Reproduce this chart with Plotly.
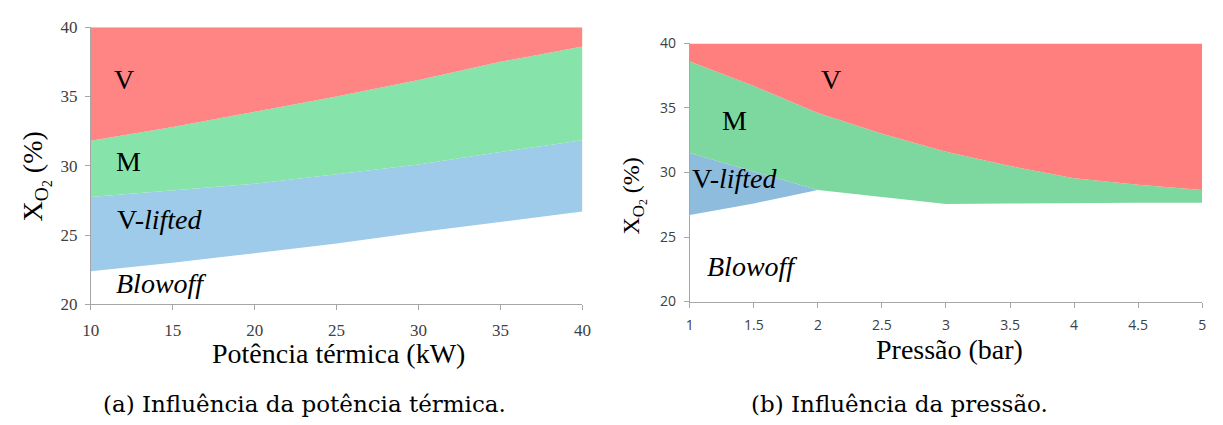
import plotly.graph_objects as go

# ---- (a) thermal power sweep ----
power_kw = [10, 15, 20, 25, 30, 35, 40]
a_lifted_low = [22.4, 23.0, 23.7, 24.4, 25.2, 25.95, 26.7]
a_lifted_high = [27.75, 28.2, 28.7, 29.4, 30.1, 31.0, 31.85]
a_m_high = [31.8, 32.8, 33.9, 35.0, 36.2, 37.5, 38.6]
a_top = [40, 40, 40, 40, 40, 40, 40]

# ---- (b) pressure sweep ----
pressure_bar = [1, 1.5, 2, 2.5, 3, 3.5, 4, 4.5, 5]
b_m_low = [31.5, 30.1, 28.65, 28.1, 27.55, 27.6, 27.65, 27.65, 27.65]
b_m_high = [38.6, 36.7, 34.6, 33.0, 31.6, 30.5, 29.55, 29.05, 28.65]
b_top = [40, 40, 40, 40, 40, 40, 40, 40, 40]
lifted_bar = [1, 1.5, 2]
b_lifted_low = [26.7, 27.6, 28.65]
b_lifted_high = [31.5, 30.1, 28.65]

RED_A, GREEN_A, BLUE_A = "#FF8484", "#86E3AA", "#9DCBE9"
RED_B, GREEN_B, BLUE_B = "#FF7F7F", "#7DD8A0", "#8EBCDD"

SERIF = "Liberation Serif, DejaVu Serif, serif"
CAPTION_FONT = "DejaVu Serif"
SANS = "Open Sans"

W, H = 1223, 425
M = 1  # page margin, px


def px_x(p):
    return (p - M) / (W - 2 * M)


def px_y(p):
    return 1 - (p - M) / (H - 2 * M)


fig = go.Figure()


def band(x, lo, hi, color, xa, ya):
    fig.add_trace(go.Scatter(x=x, y=lo, mode="lines", line=dict(width=0),
                             xaxis=xa, yaxis=ya))
    fig.add_trace(go.Scatter(x=x, y=hi, mode="lines", line=dict(width=0),
                             fill="tonexty", fillcolor=color, xaxis=xa, yaxis=ya))


band(power_kw, a_lifted_low, a_lifted_high, BLUE_A, "x", "y")
band(power_kw, a_lifted_high, a_m_high, GREEN_A, "x", "y")
band(power_kw, a_m_high, a_top, RED_A, "x", "y")

band(lifted_bar, b_lifted_low, b_lifted_high, BLUE_B, "x2", "y2")
band(pressure_bar, b_m_low, b_m_high, GREEN_B, "x2", "y2")
band(pressure_bar, b_m_high, b_top, RED_B, "x2", "y2")


def label(text, x, y, xa, ya, size=28, xanchor="center"):
    fig.add_annotation(text=text, x=x, y=y, xref=xa, yref=ya, showarrow=False,
                       xanchor=xanchor, font=dict(family=SERIF, size=size))


# region labels, chart (a)
label("V", 12.0, 36.2, "x", "y")
label("M", 12.3, 30.3, "x", "y")
label("V-<i>lifted</i>", 11.5, 26.1, "x", "y", xanchor="left")
label("<i>Blowoff</i>", 11.4, 21.5, "x", "y", xanchor="left")

# region labels, chart (b)
label("V", 2.1, 37.2, "x2", "y2")
label("M", 1.35, 34.0, "x2", "y2")
label("V-<i>lifted</i>", 1.0, 29.5, "x2", "y2", xanchor="left")
label("<i>Blowoff</i>", 1.12, 22.7, "x2", "y2", xanchor="left")


# axis titles and captions, centred on pixel positions
def title(text, x, y, size, angle=0, family=SERIF):
    fig.add_annotation(text=text, x=px_x(x), y=px_y(y), xref="paper", yref="paper",
                       xanchor="center", yanchor="middle",
                       showarrow=False, textangle=angle,
                       font=dict(family=family, size=size))


title("Potência térmica (kW)", 334, 360, 28)
title("Pressão (bar)", 955, 356, 28)
title("X<sub>O<sub>2</sub></sub> (%)", 27, 175, 28, -90)
title("X<sub>O<sub>2</sub></sub> (%)", 635, 195, 24, -90)

title("(a) Influência da potência térmica.", 300, 413, 23, family=CAPTION_FONT)
title("(b) Influência da pressão.", 904, 413, 23, family=CAPTION_FONT)

AX = "#A6A6A6"
axis_common = dict(showgrid=False, zeroline=False, showline=True, linecolor=AX,
                   linewidth=1, ticks="outside", ticklen=5, tickcolor=AX)

fig.update_layout(
    width=W, height=H, showlegend=False,
    margin=dict(l=M, r=M, t=M, b=M),
    paper_bgcolor="white", plot_bgcolor="white",
    font=dict(family=SERIF, size=16, color="black"),
    xaxis=dict(domain=[px_x(83), px_x(582)], range=[10, 40], tickvals=power_kw,
               tickfont=dict(family=SERIF, size=17, color="#404040"),
               ticklabelstandoff=5, anchor="y", **axis_common),
    yaxis=dict(domain=[px_y(309), px_y(18)], range=[20, 40], dtick=5,
               tickfont=dict(family=SERIF, size=17, color="#404040"),
               ticklabelstandoff=4, anchor="x", **axis_common),
    xaxis2=dict(domain=[px_x(691), px_x(1211)], range=[1, 5], dtick=0.5,
                tickfont=dict(family=SANS, size=14, color="#404040"),
                ticklabelstandoff=6, anchor="y2", **axis_common),
    yaxis2=dict(domain=[px_y(306), px_y(35)], range=[20, 40], dtick=5,
                tickfont=dict(family=SANS, size=14, color="#404040"),
                ticklabelstandoff=5, anchor="x2", **axis_common),
)

fig.write_html("out.html")
